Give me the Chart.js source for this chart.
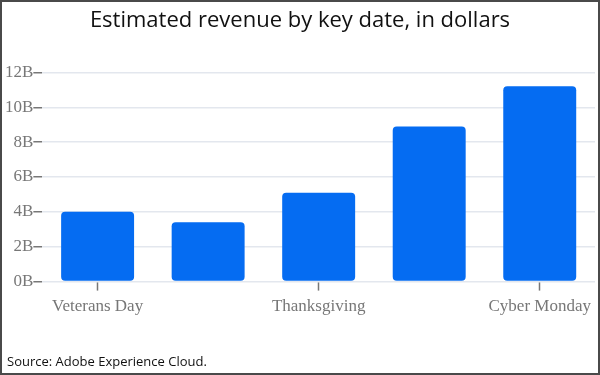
<!DOCTYPE html>
<html>
<head>
<meta charset="utf-8">
<script src="https://cdn.jsdelivr.net/npm/chart.js@4"></script>
<style>
  html, body { margin: 0; padding: 0; background: #fff; }
  #frame {
    width: 600px; height: 375px; box-sizing: border-box;
    border: 2px solid #4a4a4a; position: relative; background: #fff;
  }
  #wrap { position: absolute; left: 0; top: 0; width: 596px; height: 371px; }
  #source {
    position: absolute; left: 5px; top: 350px;
    font-family: "Open Sans", sans-serif; font-size: 13px; color: #111;
  }
</style>
</head>
<body>
<div id="frame">
  <div id="wrap"><canvas id="graphCanvas"></canvas></div>
  <div id="source">Source: Adobe Experience Cloud.</div>
</div>
<script>
// 表示するデータ（単位: 10億ドル）
const categories = ["Veterans Day", "Day before Thanksgiving", "Thanksgiving", "Black Friday", "Cyber Monday"];
const revenue = [4.0, 3.4, 5.1, 8.9, 11.2];
const shownLabels = ["Veterans Day", "", "Thanksgiving", "", "Cyber Monday"];

const tickFont = { family: "'Liberation Serif', 'DejaVu Serif', serif", size: 17 };

const ctx = document.getElementById("graphCanvas").getContext("2d");
const chart = new Chart(ctx, {
  type: "bar",
  data: {
    labels: categories,
    datasets: [
      {
        data: revenue,
        backgroundColor: "#056cf2",
        borderRadius: 4,
        borderSkipped: false,
        categoryPercentage: 1,
        barPercentage: 0.66,
      },
    ],
  },
  options: {
    animation: false,
    responsive: true,
    maintainAspectRatio: false,
    layout: { padding: { left: 3, right: 3, top: 0, bottom: 50 } },
    plugins: {
      legend: { display: false },
      tooltip: { enabled: false },
      title: {
        display: true,
        text: "Estimated revenue by key date, in dollars",
        color: "#111",
        font: { family: "'Open Sans'", size: 22, weight: "normal" },
        padding: { top: 6, bottom: 38 },
      },
    },
    scales: {
      x: {
        border: { display: false },
        grid: {
          offset: false,
          drawOnChartArea: false,
          tickLength: 9,
          tickWidth: 1.5,
          tickColor: (c) => (shownLabels[c.index] ? "#777" : "transparent"),
        },
        ticks: {
          autoSkip: false,
          maxRotation: 0,
          color: "#777",
          font: tickFont,
          padding: 6,
          callback: (v, i) => shownLabels[i],
        },
      },
      y: {
        min: 0,
        max: 12,
        border: { display: false },
        grid: {
          color: "#e3e7ee",
          lineWidth: 1.5,
          tickLength: 9,
          tickWidth: 1.5,
          tickColor: "#777",
        },
        ticks: {
          stepSize: 2,
          color: "#777",
          font: tickFont,
          padding: 0,
          callback: (v) => v + "B",
        },
      },
    },
  },
});
</script>
</body>
</html>
